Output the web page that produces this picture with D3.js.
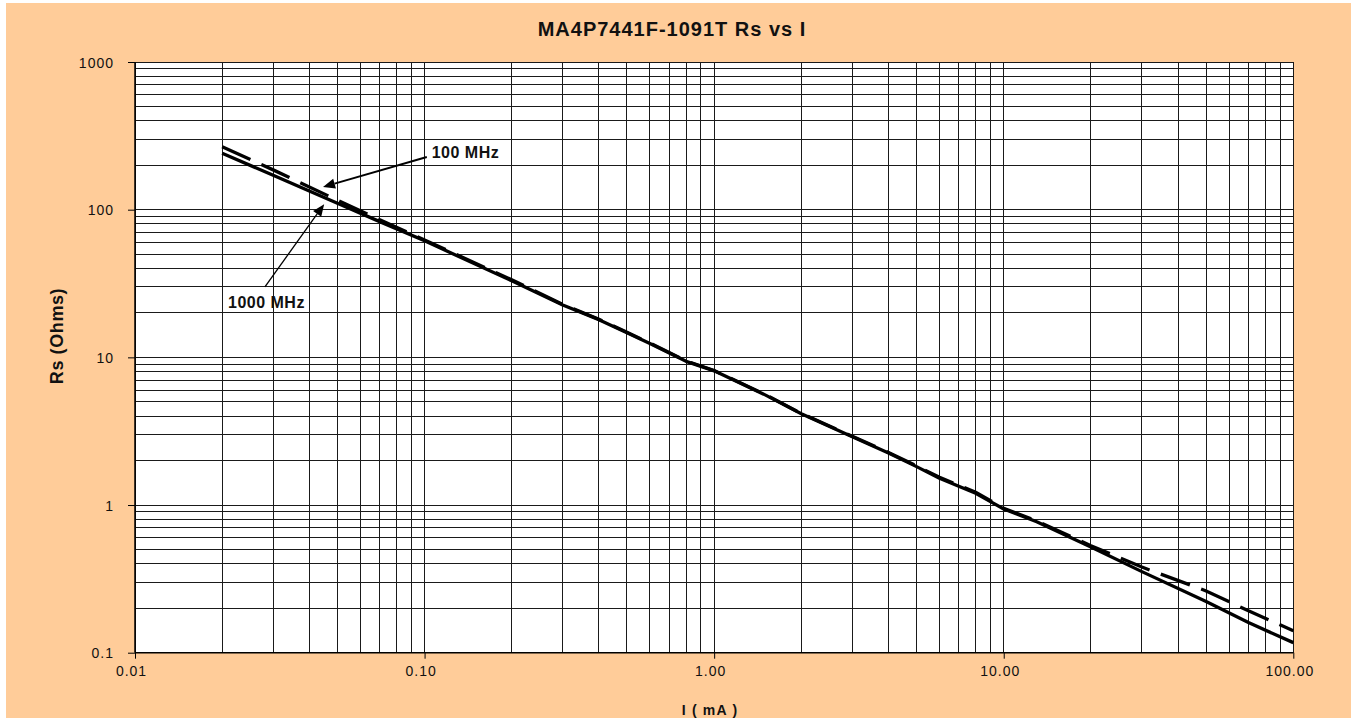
<!DOCTYPE html>
<html><head><meta charset="utf-8">
<script src="https://cdn.jsdelivr.net/npm/d3@7"></script>
<style>body{margin:0;background:#fff;} svg{display:block;}</style>
</head><body>
<svg id="chart" width="1351" height="719"></svg>
<script>
// ---- data ----
const chartTitle = "MA4P7441F-1091T Rs vs I";
const xAxisTitle = "I ( mA )";
const yAxisTitle = "Rs (Ohms)";
const xTickValues = [0.01, 0.1, 1, 10, 100];
const xTickLabels = ["0.01", "0.10", "1.00", "10.00", "100.00"];
const yTickValues = [0.1, 1, 10, 100, 1000];
const yTickLabels = ["0.1", "1", "10", "100", "1000"];
const currents   = [0.02, 0.03, 0.05, 0.07, 0.1, 0.2, 0.3, 0.4, 0.5, 0.6, 0.8, 1, 1.5, 2, 3, 4, 5, 6, 8, 10, 13, 20, 30, 50, 70, 100];
const rs1000MHz  = [241, 171, 110.6, 83, 61.5, 33, 22.6, 18, 14.7, 12.4, 9.4, 8.1, 5.57, 4.15, 2.9, 2.25, 1.82, 1.52, 1.2, 0.94, 0.77, 0.52, 0.354, 0.222, 0.16, 0.117];
const rs100MHz   = [267, 186, 116, 85.5, 62.4, 33.5, 22.8, 18.1, 14.8, 12.5, 9.45, 8.15, 5.6, 4.17, 2.92, 2.27, 1.84, 1.54, 1.22, 0.95, 0.78, 0.53, 0.38, 0.262, 0.192, 0.141];
const annotationLabels = ["100 MHz", "1000 MHz"];
const annotationTips   = [[0.0446, 142.5], [0.045, 109]];
const annotationTails  = [[0.1018, 227.4], [0.0281, 30]];
const annotationText   = [[0.1058, 224], [0.02095, 21.6]];

// ---- layout ----
const W = 1351, H = 719;
const plot = {left: 135, top: 62, right: 1293.3, bottom: 652.7};
const svg = d3.select("#chart");
const FONT = "'Liberation Sans', Arial, Helvetica, sans-serif";

svg.append("rect").attr("x", 6).attr("y", 3).attr("width", W - 6).attr("height", 715).attr("fill", "#FFCC99");
svg.append("rect").attr("x", plot.left).attr("y", plot.top)
  .attr("width", plot.right - plot.left).attr("height", plot.bottom - plot.top).attr("fill", "#fff");

const x = d3.scaleLog().domain([0.01, 100]).range([plot.left, plot.right]);
const y = d3.scaleLog().domain([0.1, 1000]).range([plot.bottom, plot.top]);

// grid
const gridX = [], gridY = [];
for (let d = -2; d < 2; d++) for (let k = 1; k <= 9; k++) gridX.push(k * Math.pow(10, d));
gridX.push(100);
for (let d = -1; d < 3; d++) for (let k = 1; k <= 9; k++) gridY.push(k * Math.pow(10, d));
gridY.push(1000);

const grid = svg.append("g").attr("stroke", "#1a1a1a").attr("stroke-width", 1).attr("shape-rendering", "crispEdges");
grid.selectAll("line.v").data(gridX).join("line").attr("class", "v")
  .attr("x1", d => x(d)).attr("x2", d => x(d)).attr("y1", plot.top).attr("y2", plot.bottom);
grid.selectAll("line.h").data(gridY).join("line").attr("class", "h")
  .attr("y1", d => y(d)).attr("y2", d => y(d)).attr("x1", plot.left).attr("x2", plot.right);

// axes
const xAxis = d3.axisBottom(x).tickValues(xTickValues).tickSize(6).tickFormat((d, i) => xTickLabels[i]);
const yAxis = d3.axisLeft(y).tickValues(yTickValues).tickSize(7).tickFormat((d, i) => yTickLabels[i]);

const gx = svg.append("g").attr("transform", `translate(0,${plot.bottom})`).call(xAxis);
const gy = svg.append("g").attr("transform", `translate(${plot.left},0)`).call(yAxis);
[gx, gy].forEach(g => {
  g.select(".domain").attr("stroke", "#000").attr("stroke-width", 1.5);
  g.selectAll(".tick line").attr("stroke", "#000").attr("stroke-width", 1);
  g.selectAll("text").attr("fill", "#111").style("font-family", FONT).style("font-size", "14px").style("letter-spacing", "1px");
});
gx.selectAll("text").attr("y", 23).attr("dy", 0).attr("dx", -4);
gy.selectAll("text").attr("x", -21).attr("dy", "0.36em");
gx.selectAll(".domain").attr("d", `M${plot.left},0H${plot.right}`);
gy.selectAll(".domain").attr("d", `M0,${plot.bottom}V${plot.top}`);

// series
const line = d3.line().x(d => x(d[0])).y(d => y(d[1]));
const s1000 = currents.map((c, i) => [c, rs1000MHz[i]]);
const s100 = currents.map((c, i) => [c, rs100MHz[i]]);
svg.append("path").datum(s1000).attr("d", line).attr("fill", "none")
  .attr("stroke", "#000").attr("stroke-width", 3.3).attr("stroke-linejoin", "round");
svg.append("path").datum(s100).attr("d", line).attr("fill", "none")
  .attr("stroke", "#000").attr("stroke-width", 3.3).attr("stroke-dasharray", "31,12");

// annotations
const annWidths = [2, 1.3];
annotationLabels.forEach((lab, i) => {
  const tx = x(annotationTips[i][0]), ty = y(annotationTips[i][1]);
  const sx = x(annotationTails[i][0]), sy = y(annotationTails[i][1]);
  const ang = Math.atan2(ty - sy, tx - sx);
  const L = 12, Wd = 5;
  const bx = tx - L * Math.cos(ang), by = ty - L * Math.sin(ang);
  svg.append("line").attr("x1", sx).attr("y1", sy).attr("x2", bx).attr("y2", by)
    .attr("stroke", "#000").attr("stroke-width", annWidths[i]);
  const p1 = [bx + Wd * Math.sin(ang), by - Wd * Math.cos(ang)];
  const p2 = [bx - Wd * Math.sin(ang), by + Wd * Math.cos(ang)];
  svg.append("polygon").attr("points", [[tx, ty], p1, p2].map(p => p.join(",")).join(" ")).attr("fill", "#000");
  svg.append("text").attr("x", x(annotationText[i][0])).attr("y", y(annotationText[i][1]))
    .text(lab).style("font-family", FONT).style("font-size", "16px").style("font-weight", "bold")
    .style("letter-spacing", "0.5px").attr("fill", "#111");
});

// titles
svg.append("text").attr("x", 672).attr("y", 36).attr("text-anchor", "middle")
  .text(chartTitle).style("font-family", FONT).style("font-size", "20px").style("font-weight", "bold")
  .style("letter-spacing", "1px").attr("fill", "#111");
svg.append("text").attr("x", 710).attr("y", 715).attr("text-anchor", "middle")
  .text(xAxisTitle).style("font-family", FONT).style("font-size", "14px").style("font-weight", "bold")
  .style("letter-spacing", "1.2px").attr("fill", "#111");
svg.append("text").attr("transform", "translate(63,336) rotate(-90)").attr("text-anchor", "middle")
  .text(yAxisTitle).style("font-family", FONT).style("font-size", "18px").style("font-weight", "bold")
  .style("letter-spacing", "0.6px").attr("fill", "#111");
</script>
</body></html>
